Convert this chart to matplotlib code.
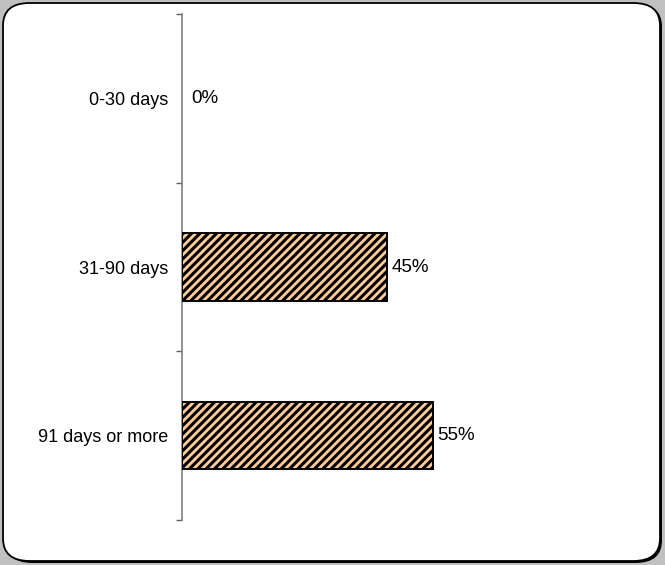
import matplotlib
matplotlib.use("Agg")
import matplotlib.pyplot as plt
from matplotlib.patches import FancyBboxPatch

plt.rcParams['font.family'] = ['Liberation Sans', 'DejaVu Sans']
plt.rcParams['hatch.linewidth'] = 2.2
plt.rcParams['hatch.color'] = 'black'

categories = ["0-30 days", "31-90 days", "91 days or more"]
values = [0, 45, 55]
value_labels = ["0%", "45%", "55%"]

W, H = 665, 565
fig = plt.figure(figsize=(W / 100, H / 100), dpi=100)
fig.patch.set_facecolor('#c0c0c0')

# rounded white panel with a dark shadow
shadow = FancyBboxPatch((6 / W, 2 / H), (W - 9) / W, (H - 6) / H,
                        boxstyle="round,pad=0,rounding_size=0.04",
                        transform=fig.transFigure, facecolor='black',
                        edgecolor='none', zorder=0)
panel = FancyBboxPatch((3 / W, 4 / H), (W - 8) / W, (H - 7) / H,
                       boxstyle="round,pad=0,rounding_size=0.04",
                       transform=fig.transFigure, facecolor='white',
                       edgecolor='black', linewidth=1.3, zorder=1)
fig.patches.extend([shadow, panel])

ax = fig.add_axes([182 / W, 1 - 520 / H, (638 - 182) / W, (520 - 14) / H])
ax.set_facecolor('none')
ax.set_zorder(2)

pos = list(range(len(categories)))
edges = ['black' if v > 0 else 'none' for v in values]
ax.barh(pos, values, height=0.4, color='#FFCC99', edgecolor=edges,
        linewidth=1.4, hatch='////', zorder=3)

for p, v, lab in zip(pos, values, value_labels):
    off = 3 if v > 0 else 7
    ax.annotate(lab, xy=(v, p), xytext=(off, 0), textcoords='offset points',
                va='center', ha='left', fontsize=13.5, color='black')

ax.set_xlim(0, 100)
ax.set_ylim(len(categories) - 0.5, -0.5)

for s in ['top', 'right', 'bottom']:
    ax.spines[s].set_visible(False)
ax.spines['left'].set_color('#808080')
ax.spines['left'].set_linewidth(1.2)
ax.set_xticks([])

ax.set_yticks([i - 0.5 for i in range(len(categories) + 1)])
ax.set_yticklabels([])
ax.tick_params(axis='y', which='major', direction='out', length=4,
               width=1, color='#606060')
ax.set_yticks(pos, minor=True)
ax.set_yticklabels(categories, minor=True, fontsize=13)
ax.tick_params(axis='y', which='minor', length=0, pad=10)

fig.savefig('out.png', dpi=100, facecolor=fig.get_facecolor())
